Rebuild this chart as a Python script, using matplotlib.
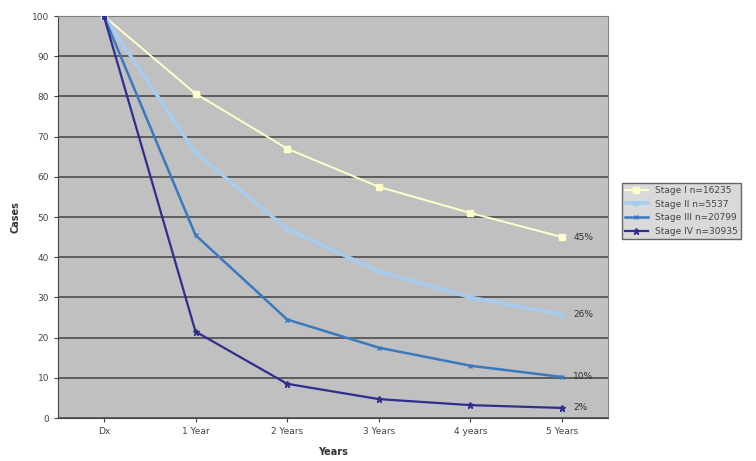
import matplotlib.pyplot as plt

# ---------------------------------------------------------------------------
# Data
# ---------------------------------------------------------------------------
years = ["Dx", "1 Year", "2 Years", "3 Years", "4 years", "5 Years"]

stage_1 = [100, 80.7, 67, 57.5, 51, 45]
stage_2 = [100, 66, 47, 36.5, 30, 25.7]
stage_3 = [100, 45.5, 24.5, 17.5, 13, 10.2]
stage_4 = [100, 21.5, 8.5, 4.7, 3.2, 2.5]

labels = ["Stage I n=16235", "Stage II n=5537", "Stage III n=20799", "Stage IV n=30935"]
end_labels = ["45%", "26%", "10%", "2%"]

colors = ["#FFFFCC", "#A6CCF0", "#3A78C0", "#2E2E8C"]
markers = ["s", "^", "x", "*"]
msizes = [5, 3, 3, 4.5]
widths = [1.4, 2.6, 1.8, 1.6]

fig = plt.figure(figsize=(7.56, 4.61), dpi=100)
ax = fig.add_axes([58 / 756, 1 - 418 / 461, 550 / 756, 402 / 461])
ax.set_facecolor("#C0C0C0")

x = list(range(len(years)))
for vals, lab, c, m, s, w, end in zip([stage_1, stage_2, stage_3, stage_4],
                                       labels, colors, markers, msizes, widths,
                                       end_labels):
    ax.plot(x, vals, color=c, lw=w, marker=m, ms=s, mec=c, mfc=c, label=lab,
            zorder=3)
    ax.text(x[-1] + 0.12, vals[-1], end, fontsize=6.5, color="#333333",
            va="center", ha="left", zorder=4)

ax.set_xlim(-0.5, len(years) - 0.5)
ax.set_ylim(0, 100)
ax.set_yticks(range(0, 101, 10))
ax.set_xticks(x)
ax.set_xticklabels(years)
ax.tick_params(labelsize=6.5, labelcolor="#444444", length=3, color="#444444")
ax.yaxis.grid(True, color="#555555", lw=1.3)
ax.set_axisbelow(True)
for side in ["top", "right"]:
    ax.spines[side].set_color("#808080")
for side in ["left", "bottom"]:
    ax.spines[side].set_color("#444444")

ax.set_ylabel("Cases", fontsize=7, fontweight="bold", color="#333333", labelpad=8)
ax.set_xlabel("Years", fontsize=7, fontweight="bold", color="#333333", labelpad=8)

leg = fig.legend(loc="upper left", bbox_to_anchor=(617 / 756, 1 - 178 / 461),
                 fontsize=6.5, frameon=True, fancybox=False, handlelength=2.5,
                 borderpad=0.4, labelspacing=0.5)
leg.get_frame().set_facecolor("#D0D0D0")
leg.get_frame().set_edgecolor("#444444")
for t in leg.get_texts():
    t.set_color("#444444")

fig.savefig("out.png", dpi=100)
